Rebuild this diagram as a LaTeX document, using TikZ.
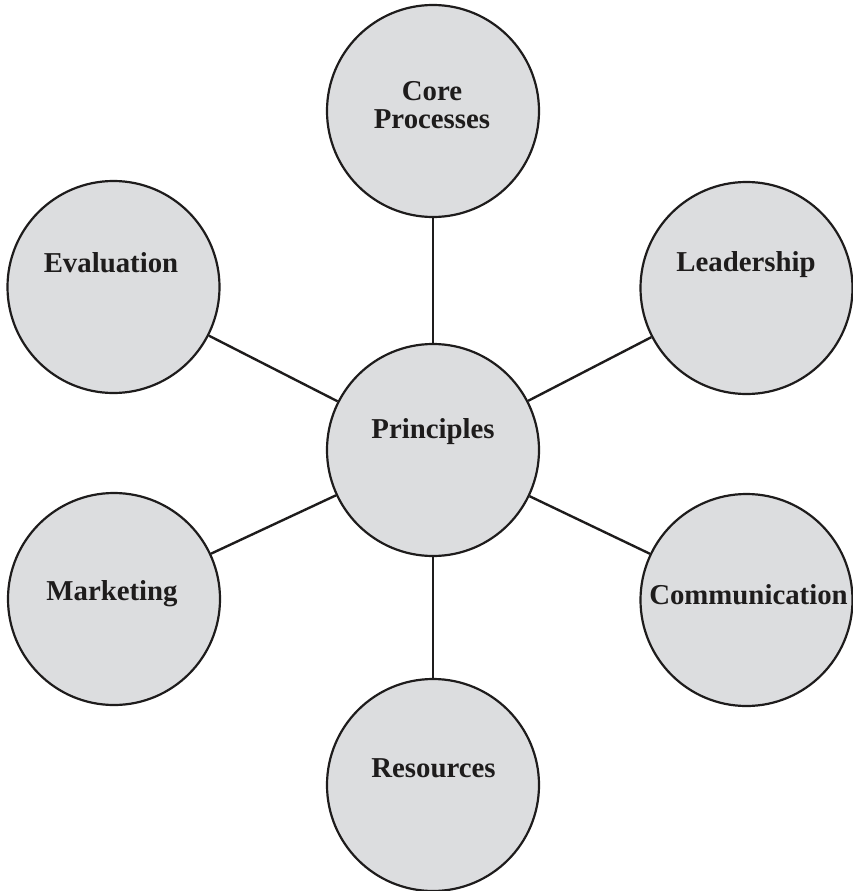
\documentclass[tikz,border=0pt]{standalone}
\usepackage{fontspec}
\setmainfont{Liberation Serif}
\definecolor{bubblefill}{RGB}{220,221,223}
\definecolor{inkline}{RGB}{30,28,28}
\begin{document}
\begin{tikzpicture}[x=1pt,y=-1pt,
  bubble/.style={circle,draw=inkline,fill=bubblefill,line width=2.2pt,
    minimum size=212pt,inner sep=0pt},
  link/.style={draw=inkline,line width=2.4pt},
  lbl/.style={anchor=base,inner sep=0pt,text=inkline,
    font=\fontsize{28.8}{28}\selectfont\bfseries}]
\useasboundingbox (0,0) rectangle (853,891);

% hub and satellites
\node[bubble] (prin) at (433,450) {};
\node[bubble] (core) at (433,111) {};
\node[bubble] (eval) at (113.5,287) {};
\node[bubble] (lead) at (746.5,288) {};
\node[bubble] (mark) at (114,599) {};
\node[bubble] (comm) at (746.5,600) {};
\node[bubble] (res)  at (433,785) {};

% spokes
\foreach \n in {core,eval,lead,mark,comm,res}
  \draw[link] (prin) -- (\n);

% labels
\node[lbl] (coreA) at (432,100) {Core};
\node[lbl] (coreB) at (432,128) {Processes};
\node[lbl] (evalT) at (111,272) {Evaluation};
\node[lbl] (leadT) at (746,271) {Leadership};
\node[lbl] (prinT) at (433,438) {Principles};
\node[lbl] (markT) at (112,600) {Marketing};
\node[lbl] (commT) at (748.5,604) {Communication};
\node[lbl] (resT)  at (433.5,777) {Resources};
\end{tikzpicture}
\end{document}
